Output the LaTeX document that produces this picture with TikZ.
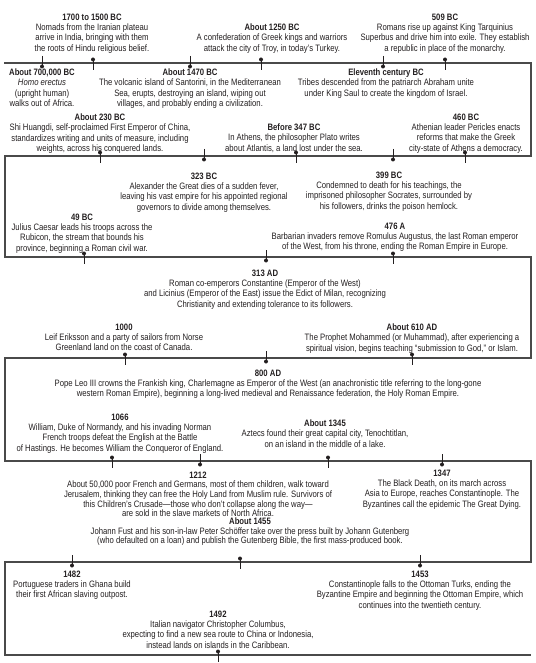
\documentclass[tikz,border=0pt]{standalone}
\usepackage{fontspec}
\setmainfont{Liberation Sans}[FakeStretch=0.83]
\definecolor{ink}{HTML}{231F20}
\definecolor{rulec}{HTML}{4A4A4A}
\newcommand\evfont{\fontsize{9.3}{10.3}\selectfont}
\newcommand\evfonttight{\fontsize{9.3}{9.6}\selectfont}
\tikzset{
  tline/.style={draw=rulec, line width=1.1pt},
  evt/.style={align=center, inner sep=0pt, anchor=north, yshift=3.4pt, font=\evfont, text=ink},
  pinstick/.style={draw=ink, line width=1pt},
  pinup/.pic={\draw[pinstick] (0,-3.5) -- (0,7); \fill[ink] (0,-3.5) circle[radius=2pt];},
  pindown/.pic={\draw[pinstick] (0,-7) -- (0,3.5); \fill[ink] (0,3.5) circle[radius=2pt];}
}
\newcommand\ev[6][]{\node[evt,#1] (#2) at (#3,#4) {\textbf{#5}\\#6};}
\begin{document}
\begin{tikzpicture}[x=1pt,y=-1pt]
\useasboundingbox (0,0) rectangle (535,663);
% serpentine time line
\coordinate (a0) at (4,63);
\coordinate (a1) at (531,63);
\coordinate (a2) at (531,156);
\coordinate (a3) at (5,156);
\coordinate (a4) at (5,257);
\coordinate (a5) at (531,257);
\coordinate (a6) at (531,358);
\coordinate (a7) at (5,358);
\coordinate (a8) at (5,461);
\coordinate (a9) at (531,461);
\coordinate (a10) at (531,562);
\coordinate (a11) at (5,562);
\coordinate (a12) at (5,655);
\coordinate (a13) at (531,655);
\draw[tline] (a0) -- (a1) -- (a2) -- (a3) -- (a4) -- (a5) -- (a6) -- (a7) -- (a8) -- (a9) -- (a10) -- (a11) -- (a12) -- (a13);

% row 1
\ev{e1}{92}{17}{1700 to 1500 BC}{Nomads from the Iranian plateau\\arrive in India, bringing with them\\the roots of Hindu religious belief.}
\ev{e2}{272}{27}{About 1250 BC}{A confederation of Greek kings and warriors\\attack the city of Troy, in today's Turkey.}
\ev{e3}{445}{17}{509 BC}{Romans rise up against King Tarquinius\\Superbus and drive him into exile. They establish\\a republic in place of the monarchy.}
\ev{e4}{42}{72}{About 700,000 BC}{\textit{Homo erectus}\\(upright human)\\walks out of Africa.}
\ev{e5}{190}{72}{About 1470 BC}{The volcanic island of Santorini, in the Mediterranean\\Sea, erupts, destroying an island, wiping out\\villages, and probably ending a civilization.}
\ev{e6}{386}{72}{Eleventh century BC}{Tribes descended from the patriarch Abraham unite\\under King Saul to create the kingdom of Israel.}
\pic at (93,63) {pinup};
\pic at (261,63) {pinup};
\pic at (445,63) {pinup};
\pic at (42,63) {pindown};
\pic at (190,63) {pindown};
\pic at (383,63) {pindown};

% row 2
\ev{e7}{100}{117}{About 230 BC}{Shi Huangdi, self-proclaimed First Emperor of China,\\standardizes writing and units of measure, including\\weights, across his conquered lands.}
\ev{e8}{294}{127}{Before 347 BC}{In Athens, the philosopher Plato writes\\about Atlantis, a land lost under the sea.}
\ev{e9}{466}{117}{460 BC}{Athenian leader Pericles enacts\\reforms that make the Greek\\city-state of Athens a democracy.}
\ev{e10}{204}{176}{323 BC}{Alexander the Great dies of a sudden fever,\\leaving his vast empire for his appointed regional\\governors to divide among themselves.}
\ev{e11}{389}{175}{399 BC}{Condemned to death for his teachings, the\\imprisoned philosopher Socrates, surrounded by\\his followers, drinks the poison hemlock.}
\pic at (100,156) {pinup};
\pic at (296,156) {pinup};
\pic at (465,156) {pinup};
\pic at (204,156) {pindown};
\pic at (393,156) {pindown};

% row 3
\ev{e12}{82}{217}{49 BC}{Julius Caesar leads his troops across the\\Rubicon, the stream that bounds his\\province, beginning a Roman civil war.}
\ev{e13}{395}{226}{476 A}{Barbarian invaders remove Romulus Augustus, the last Roman emperor\\of the West, from his throne, ending the Roman Empire in Europe.}
\ev{e14}{265}{273}{313 AD}{Roman co-emperors Constantine (Emperor of the West)\\and Licinius (Emperor of the East) issue the Edict of Milan, recognizing\\Christianity and extending tolerance to its followers.}
\pic at (84,257) {pinup};
\pic at (393,257) {pinup};
\pic at (266,257) {pindown};

% row 4
\ev{e15}{124}{327}{1000}{Leif Eriksson and a party of sailors from Norse\\Greenland land on the coast of Canada.}
\ev{e16}{412}{327}{About 610 AD}{The Prophet Mohammed (or Muhammad), after experiencing a\\spiritual vision, begins teaching ``submission to God,'' or Islam.}
\ev{e17}{268}{373}{800 AD}{Pope Leo III crowns the Frankish king, Charlemagne as Emperor of the West (an anachronistic title referring to the long-gone\\western Roman Empire), beginning a long-lived medieval and Renaissance federation, the Holy Roman Empire.}
\pic at (125,358) {pinup};
\pic at (412,358) {pinup};
\pic at (266,358) {pindown};

% row 5
\ev{e18}{120}{417}{1066}{William, Duke of Normandy, and his invading Norman\\French troops defeat the English at the Battle\\of Hastings. He becomes William the Conqueror of England.}
\ev{e19}{325}{423}{About 1345}{Aztecs found their great capital city, Tenochtitlan,\\on an island in the middle of a lake.}
\ev[font=\evfonttight]{e20}{198}{475}{1212}{About 50,000 poor French and Germans, most of them children, walk toward\\Jerusalem, thinking they can free the Holy Land from Muslim rule. Survivors of\\this Children's Crusade---those who don't collapse along the way---\\are sold in the slave markets of North Africa.}
\ev{e21}{442}{473}{1347}{The Black Death, on its march across\\Asia to Europe, reaches Constantinople. The\\Byzantines call the epidemic The Great Dying.}
\pic at (112,461) {pinup};
\pic at (328,461) {pinup};
\pic at (200,461) {pindown};
\pic at (442,461) {pindown};

% row 6
\ev[font=\evfonttight]{e22}{250}{521}{About 1455}{Johann Fust and his son-in-law Peter Schöffer take over the press built by Johann Gutenberg\\(who defaulted on a loan) and publish the Gutenberg Bible, the first mass-produced book.}
\ev{e23}{72}{574}{1482}{Portuguese traders in Ghana build\\their first African slaving outpost.}
\ev{e24}{420}{574}{1453}{Constantinople falls to the Ottoman Turks, ending the\\Byzantine Empire and beginning the Ottoman Empire, which\\continues into the twentieth century.}
\pic at (240,562) {pinup};
\pic at (72,562) {pindown};
\pic at (420,562) {pindown};

% row 7
\ev{e25}{218}{614}{1492}{Italian navigator Christopher Columbus,\\expecting to find a new sea route to China or Indonesia,\\instead lands on islands in the Caribbean.}
\pic at (218,655) {pinup};
\end{tikzpicture}
\end{document}
